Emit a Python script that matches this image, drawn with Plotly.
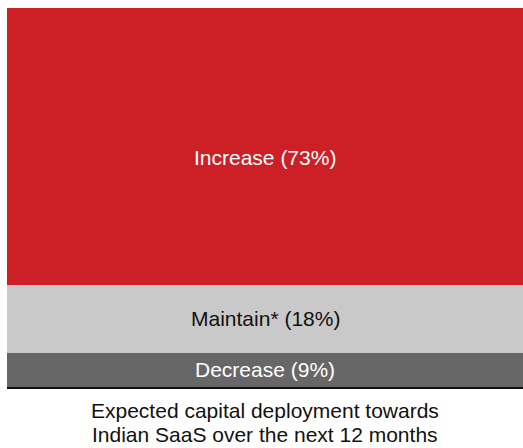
import plotly.graph_objects as go

# Share of investors by expected change in capital deployment
categories = ["Decrease", "Maintain*", "Increase"]
shares = [9, 18, 73]
colors = ["#676767", "#C9C9C9", "#CD2026"]
text_colors = ["white", "#111111", "white"]
label_shift = [0, 0, -11]
title_lines = ["Expected capital deployment towards", "Indian SaaS over the next 12 months"]

FONT = "Liberation Sans, Arial, sans-serif"
W, H = 523, 448
M = dict(l=7, r=0, t=8, b=61)
plot_h = H - M["t"] - M["b"]

fig = go.Figure()
base = 0
for name, val, col, tcol, dy in zip(categories, shares, colors, text_colors, label_shift):
    fig.add_trace(go.Bar(
        x=["All"],
        y=[val],
        name=name,
        marker=dict(color=col, line=dict(width=0)),
        hoverinfo="skip",
    ))
    fig.add_annotation(
        x="All", y=base + val / 2, xref="x", yref="y",
        text=f"{name} ({val}%)",
        showarrow=False, yshift=dy,
        font=dict(color=tcol, size=21, family=FONT),
    )
    base += val

# two-line caption under the bar
for i, line in enumerate(title_lines):
    px_below = 23 + 24 * i
    fig.add_annotation(
        x=0.5, xref="paper", y=-px_below / plot_h, yref="paper",
        yanchor="middle", text=line, showarrow=False,
        font=dict(color="#111111", size=21, family=FONT),
    )

fig.update_layout(
    barmode="stack",
    bargap=0,
    width=W,
    height=H,
    margin=M,
    paper_bgcolor="white",
    plot_bgcolor="white",
    showlegend=False,
    font=dict(family=FONT, color="#111111"),
    xaxis=dict(
        showticklabels=False,
        ticks="",
        showgrid=False,
        zeroline=False,
        showline=True,
        linecolor="#111111",
        linewidth=2,
    ),
    yaxis=dict(
        range=[0, 100],
        visible=False,
        showgrid=False,
        zeroline=False,
    ),
)

fig.write_html("out.html")
